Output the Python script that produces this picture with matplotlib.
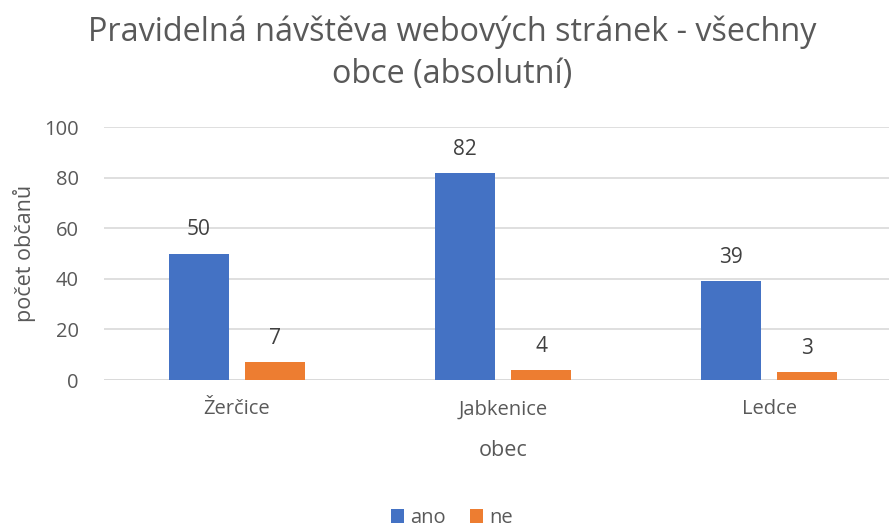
import matplotlib
matplotlib.use("Agg")
import matplotlib.pyplot as plt
import numpy as np

categories = ["Žerčice", "Jabkenice", "Ledce"]
ano = [50, 82, 39]
ne = [7, 4, 3]
series_names = ["ano", "ne"]
yticks = [0, 20, 40, 60, 80, 100]

plt.rcParams['font.family'] = ['Open Sans', 'DejaVu Sans']
TXT = '#595959'

W, H = 889, 530
fig = plt.figure(figsize=(W/100, H/100), dpi=100)
ax = fig.add_axes([104/W, (H-380)/H, 798/W, (380-127.3)/H])

x = np.arange(len(categories))
bw = 0.2256
off = 0.143
b1 = ax.bar(x - off, ano, bw, color='#4472C4', label=series_names[0], zorder=3)
b2 = ax.bar(x + off, ne, bw, color='#ED7D31', label=series_names[1], zorder=3)
for bars in (b1, b2):
    for r in bars:
        ax.annotate(f"{int(r.get_height())}", (r.get_x()+r.get_width()/2, r.get_height()),
                    xytext=(0, 9.5), textcoords='offset points', ha='center', va='bottom',
                    fontsize=15, color='#404040')

ax.set_xlim(-0.5, 2.5)
ax.set_ylim(0, 100)
ax.set_yticks(yticks)
ax.set_xticks(x)
ax.set_xticklabels(categories)
ax.tick_params(axis='both', length=0, labelsize=14.5, colors=TXT)
ax.tick_params(axis='x', pad=14)
ax.tick_params(axis='y', pad=18)
ax.grid(axis='y', color='#D9D9D9', linewidth=1.2, zorder=0)
for s in ax.spines.values():
    s.set_visible(False)
ax.axhline(0, color='#D9D9D9', linewidth=1.2, zorder=1)

ax.set_xlabel("obec", fontsize=15.5, color=TXT, labelpad=15)
ax.set_ylabel("počet občanů", fontsize=15.5, color=TXT, labelpad=6)

fig.text(452/W, 1-53/H, "Pravidelná návštěva webových stránek - všechny\nobce (absolutní)",
         ha='center', va='center', fontsize=23.3, color=TXT, linespacing=1.35)

fig.legend(handles=[b1, b2], labels=series_names, loc='center', bbox_to_anchor=(452/W, 1-518/H),
           ncol=2, frameon=False, fontsize=14.5, handlelength=0.65, handleheight=0.65,
           handletextpad=0.3, columnspacing=1.2, labelcolor=TXT)

fig.savefig("out.png", dpi=100)
